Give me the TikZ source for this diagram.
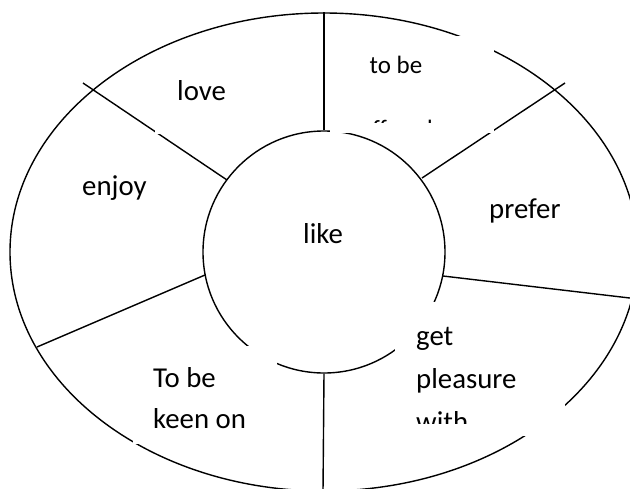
\documentclass[tikz,border=0pt]{standalone}
\usepackage{fontspec}
\setmainfont{Carlito}
\usetikzlibrary{shapes.geometric}
\begin{document}
\begin{tikzpicture}[x=1pt,y=-1pt,
  edge/.style={line width=1.4pt, draw=black},
  cover/.style={fill=white, draw=none},
  lbl/.style={inner sep=0pt, anchor=base west, font=\fontsize{28.8}{34}\selectfont},
  lblsmall/.style={inner sep=0pt, anchor=base, font=\fontsize{25}{30}\selectfont}]
\fill[white] (0,0) rectangle (630,488);
\useasboundingbox (0,0) rectangle (630,488);
\clip (0,0) rectangle (630,488);
% rings
\node[edge, ellipse, inner sep=0pt, minimum width=628pt, minimum height=478pt] (rim) at (324,252) {};
\node[edge, circle, inner sep=0pt, minimum size=242pt] (hub) at (324,252) {};
% spoke end points
\coordinate (loveIn) at (227,180);
\coordinate (loveOut) at (83,83);
\coordinate (tobeIn) at (422,178);
\coordinate (tobeOut) at (565,83);
\coordinate (prefIn) at (443,276);
\coordinate (prefOut) at (634,298.5);
\coordinate (enjIn) at (205,275);
\coordinate (enjOut) at (37,347);
\coordinate (botOut) at (323,492);
% spokes
\draw[edge] (hub.north) -- (rim.north);
\draw[edge] (loveIn) -- (loveOut);
\draw[edge] (tobeIn) -- (tobeOut);
\draw[edge] (prefIn) -- (prefOut);
\draw[edge] (enjIn) -- (enjOut);
\draw[edge] (hub.south) -- (botOut);
% white text boxes that hide parts of the lines
\fill[cover] (330,36) rectangle (494,133);
\fill[cover] (155,60) rectangle (250,134);
\fill[cover] (395,302) rectangle (565,436);
\fill[cover] (133,346) rectangle (277,444);
% labels
\node[lbl] (love) at (177,100) {love};
\node[lbl] (enjoy) at (82,195) {enjoy};
\node[lbl] (like) at (303,243) {like};
\node[lbl] (prefer) at (489,218) {prefer};
\node[lbl] (tobe1) at (153,387) {To be};
\node[lbl] (tobe2) at (153,428) {keen on};
\node[lbl] (get1) at (416,345) {get};
\node[lbl] (get2) at (416,388) {pleasure};
\begin{scope}
  \clip (395,302) rectangle (565,423);
  \node[lbl] (get3) at (416,431) {with};
\end{scope}
\node[lblsmall] (off1) at (396,73) {to be};
\begin{scope}
  \clip (330,36) rectangle (494,122);
  \node[lblsmall] (off2) at (396,137) {offered};
\end{scope}
\end{tikzpicture}
\end{document}
